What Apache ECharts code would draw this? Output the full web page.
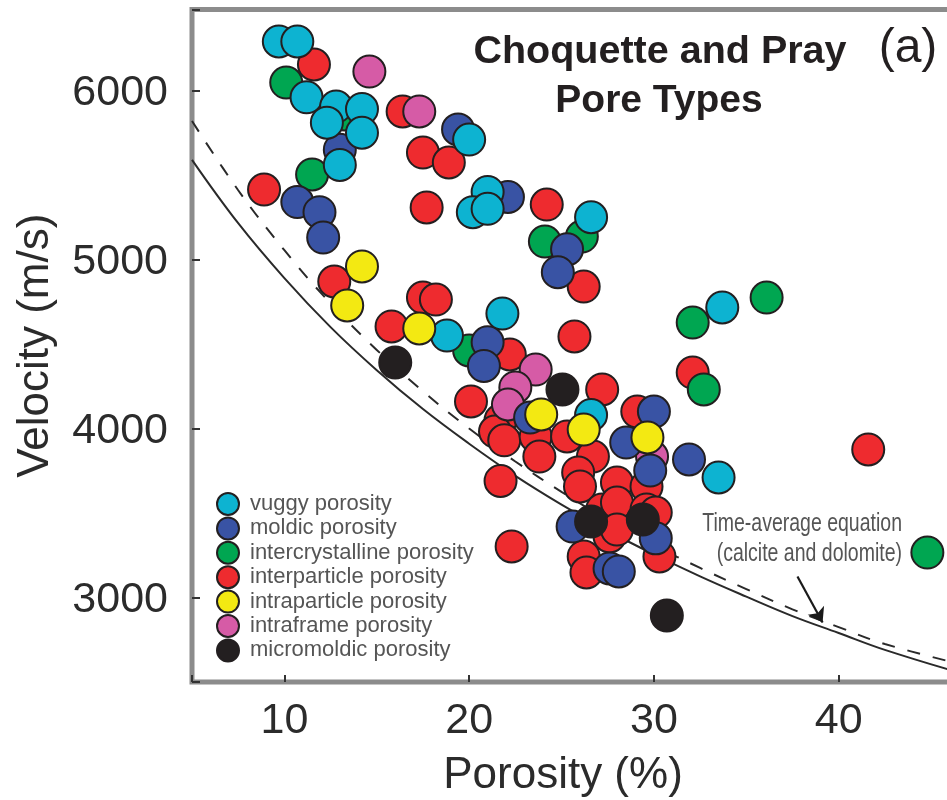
<!DOCTYPE html>
<html>
<head>
<meta charset="utf-8">
<title>Choquette and Pray Pore Types</title>
<script src="https://cdn.jsdelivr.net/npm/echarts@6/dist/echarts.min.js"></script>
<style>
  html, body { margin: 0; padding: 0; background: #ffffff; }
  #chart { width: 947px; height: 800px; }
</style>
</head>
<body>
<div id="chart"></div>
<script>
// Samples as [porosity (%), velocity (m/s)], one list per pore type
const vuggy = [
  [9.7, 6290], [10.7, 6290], [11.2, 5960], [12.8, 5905], [14.2, 5890], [12.3, 5810],
  [14.2, 5750], [20.0, 5710], [13.0, 5560], [21.0, 5400], [20.2, 5280], [21.0, 5300],
  [26.6, 5250], [21.8, 4680], [18.8, 4550], [26.6, 4080], [33.5, 3710], [33.7, 4716]
];
const moldic = [
  [19.4, 5770], [13.0, 5650], [10.7, 5340], [11.9, 5280], [12.1, 5130], [22.1, 5370],
  [25.3, 5060], [24.8, 4925], [21.0, 4510], [20.8, 4370], [23.3, 4065], [30.0, 4100],
  [28.5, 3917], [29.8, 3751], [31.9, 3817], [25.6, 3420], [30.1, 3350], [27.6, 3172],
  [28.1, 3154]
];
const intercrystalline = [
  [10.1, 6047], [13.25, 5858], [11.5, 5503], [24.1, 5106], [26.1, 5136], [20.0, 4462],
  [32.1, 4627], [36.1, 4775], [32.7, 4231], [44.8, 3266]
];
const interparticle = [
  [11.6, 6154], [16.4, 5876], [17.5, 5633], [18.9, 5574], [8.9, 5414], [17.7, 5308],
  [24.2, 5325], [26.2, 4840], [12.7, 4870], [17.5, 4775], [18.2, 4763], [15.8, 4604],
  [25.7, 4545], [22.2, 4438], [20.1, 4160], [27.2, 4231], [32.1, 4331], [21.7, 4050],
  [21.4, 3982], [21.9, 3930], [23.6, 3953], [25.3, 3953], [23.8, 3834], [26.7, 3834],
  [25.9, 3740], [26.0, 3657], [28.0, 3680], [29.6, 3657], [21.7, 3690], [27.2, 3521],
  [28.0, 3562], [29.6, 3521], [30.1, 3503], [27.6, 3361], [28.0, 3402], [30.3, 3243],
  [26.2, 3243], [26.35, 3148], [22.3, 3302], [29.1, 4100], [41.6, 3876]
];
const intraparticle = [
  [14.2, 4959], [13.4, 4728], [17.3, 4592], [23.9, 4083], [26.2, 3994], [29.65, 3947]
];
const intraframe = [
  [14.6, 6112], [17.3, 5876], [23.6, 4349], [22.5, 4243], [22.1, 4142], [29.9, 3834]
];
const micromoldic = [
  [16.0, 4390], [25.05, 4231], [26.6, 3450], [29.4, 3462], [30.7, 2893]
];

// Time-average curves (velocity at each porosity step)
const curvePorosity   = [5, 7.5, 10, 12.5, 15, 17.5, 20, 22.5, 25, 27.5, 30, 32.5, 35, 37.5, 40, 42.5, 47];
const calciteVelocity = [5590, 5215, 4890, 4600, 4345, 4115, 3910, 3720, 3550, 3395, 3255, 3125, 3005, 2890, 2790, 2690, 2540];
const dolomiteVelocity = [5820, 5410, 5055, 4740, 4465, 4220, 4000, 3805, 3625, 3460, 3310, 3175, 3050, 2930, 2825, 2725, 2595];

// Annotation arrow, from the note down to the curves
const arrowFrom = [37.77, 3124];
const arrowTo   = [39.13, 2852];

const xTickLabels = [10, 20, 30, 40];
const yTickLabels = [3000, 4000, 5000, 6000];

const poreTypes = [
  { name: 'vuggy porosity',            data: vuggy,            color: '#0db3d1' },
  { name: 'moldic porosity',           data: moldic,           color: '#3953a4' },
  { name: 'intercrystalline porosity', data: intercrystalline, color: '#00a651' },
  { name: 'interparticle porosity',    data: interparticle,    color: '#ee2b2f' },
  { name: 'intraparticle porosity',    data: intraparticle,    color: '#f3e912' },
  { name: 'intraframe porosity',       data: intraframe,       color: '#d65ba6' },
  { name: 'micromoldic porosity',      data: micromoldic,      color: '#231f20' }
];
// stacking order of the markers (later ones sit on top)
const drawOrder = [
  'interparticle porosity', 'intercrystalline porosity', 'intraframe porosity',
  'moldic porosity', 'vuggy porosity', 'intraparticle porosity', 'micromoldic porosity'
];

const FONT = "'Liberation Sans', Arial, Helvetica, sans-serif";

const chart = echarts.init(document.getElementById('chart'), null, { renderer: 'canvas' });

const scatterSeries = drawOrder.map(function (n) {
  const t = poreTypes.find(function (p) { return p.name === n; });
  return {
    name: t.name,
    type: 'scatter',
    data: t.data,
    symbol: 'circle',
    symbolSize: 32,
    itemStyle: { color: t.color, borderColor: '#231f20', borderWidth: 2, opacity: 1 },
    emphasis: { disabled: true },
    z: 3
  };
});

const option = {
  animation: false,
  backgroundColor: '#ffffff',
  textStyle: { fontFamily: FONT },
  grid: {
    left: 192, top: 9.4, width: 776, height: 672.6,
    containLabel: false, outerBoundsMode: 'none',
    show: true, borderColor: '#8c8c8c', borderWidth: 5, backgroundColor: 'transparent'
  },
  xAxis: {
    type: 'value', min: 5, max: 47, splitNumber: 4,
    name: 'Porosity (%)', nameLocation: 'middle', nameGap: 72,
    nameTextStyle: { fontSize: 44, color: '#2b2b2b', fontFamily: FONT, padding: [0, 34, 0, 0] },
    axisLine: { show: false },
    axisTick: { show: true, inside: true, length: 7, lineStyle: { color: '#333', width: 2 } },
    axisLabel: {
      fontSize: 43, color: '#2b2b2b', fontFamily: FONT, margin: 18,
      formatter: function (v) { return xTickLabels.indexOf(v) >= 0 ? String(v) : ''; }
    },
    splitLine: { show: false }
  },
  yAxis: {
    type: 'value', min: 2500, max: 6480, splitNumber: 4,
    name: 'Velocity (m/s)', nameLocation: 'middle', nameGap: 134, nameRotate: 90,
    nameTextStyle: { fontSize: 44, color: '#2b2b2b', fontFamily: FONT },
    axisLine: { show: false },
    axisTick: { show: true, inside: true, length: 8, lineStyle: { color: '#333', width: 2 } },
    axisLabel: {
      margin: 24,
      formatter: function (v) { return yTickLabels.indexOf(v) >= 0 ? '{v|' + v + '}' : ''; },
      rich: {
        v: { fontSize: 43, color: '#2b2b2b', fontFamily: FONT, padding: [6, 0, 0, 0] }
      }
    },
    splitLine: { show: false }
  },
  legend: {
    orient: 'vertical', left: 216, top: 492, padding: 0,
    itemWidth: 22, itemHeight: 22, itemGap: 0.4,
    icon: 'circle',
    selectedMode: false,
    data: poreTypes.map(function (p) { return p.name; }),
    textStyle: { fontSize: 22, lineHeight: 22, color: '#555555', fontFamily: FONT, padding: [0, 0, 0, 6] }
  },
  graphic: [
    { type: 'text', x: 660, y: 51.8, z: 10,
      style: { text: 'Choquette and Pray', fontSize: 39.5, fontWeight: 'bold', fontFamily: FONT,
               fill: '#231f20', align: 'center', verticalAlign: 'middle',
               textAlign: 'center', textVerticalAlign: 'middle' } },
    { type: 'text', x: 659, y: 100.8, z: 10,
      style: { text: 'Pore Types', fontSize: 39, fontWeight: 'bold', fontFamily: FONT,
               fill: '#231f20', align: 'center', verticalAlign: 'middle',
               textAlign: 'center', textVerticalAlign: 'middle' } },
    { type: 'text', x: 908, y: 48.4, z: 10,
      style: { text: '(a)', fontSize: 48, fontFamily: FONT,
               fill: '#231f20', align: 'center', verticalAlign: 'middle',
               textAlign: 'center', textVerticalAlign: 'middle' } },
    { type: 'text', x: 902, y: 524, scaleX: 0.75, z: 10,
      style: { text: 'Time-average equation', fontSize: 26, fontFamily: FONT,
               fill: '#555555', align: 'right', verticalAlign: 'middle',
               textAlign: 'right', textVerticalAlign: 'middle' } },
    { type: 'text', x: 902, y: 554, scaleX: 0.75, z: 10,
      style: { text: '(calcite and dolomite)', fontSize: 26, fontFamily: FONT,
               fill: '#555555', align: 'right', verticalAlign: 'middle',
               textAlign: 'right', textVerticalAlign: 'middle' } }
  ],
  series: [
    {
      name: 'calcite', type: 'line', smooth: 0.4, symbol: 'none', z: 2,
      data: curvePorosity.map(function (p, i) { return [p, calciteVelocity[i]]; }),
      lineStyle: { color: '#2a2a2a', width: 2, type: 'solid' },
      emphasis: { disabled: true },
      markLine: {
        silent: true, animation: false,
        symbol: ['none', 'arrow'], symbolSize: 14,
        lineStyle: { color: '#1a1a1a', width: 2.2, type: 'solid' },
        label: { show: false },
        data: [[{ coord: arrowFrom }, { coord: arrowTo }]]
      }
    },
    {
      name: 'dolomite', type: 'line', smooth: 0.4, symbol: 'none', z: 2,
      data: curvePorosity.map(function (p, i) { return [p, dolomiteVelocity[i]]; }),
      lineStyle: { color: '#2a2a2a', width: 2, type: [13, 13] },
      emphasis: { disabled: true }
    }
  ].concat(scatterSeries)
};

chart.setOption(option);
</script>
</body>
</html>
